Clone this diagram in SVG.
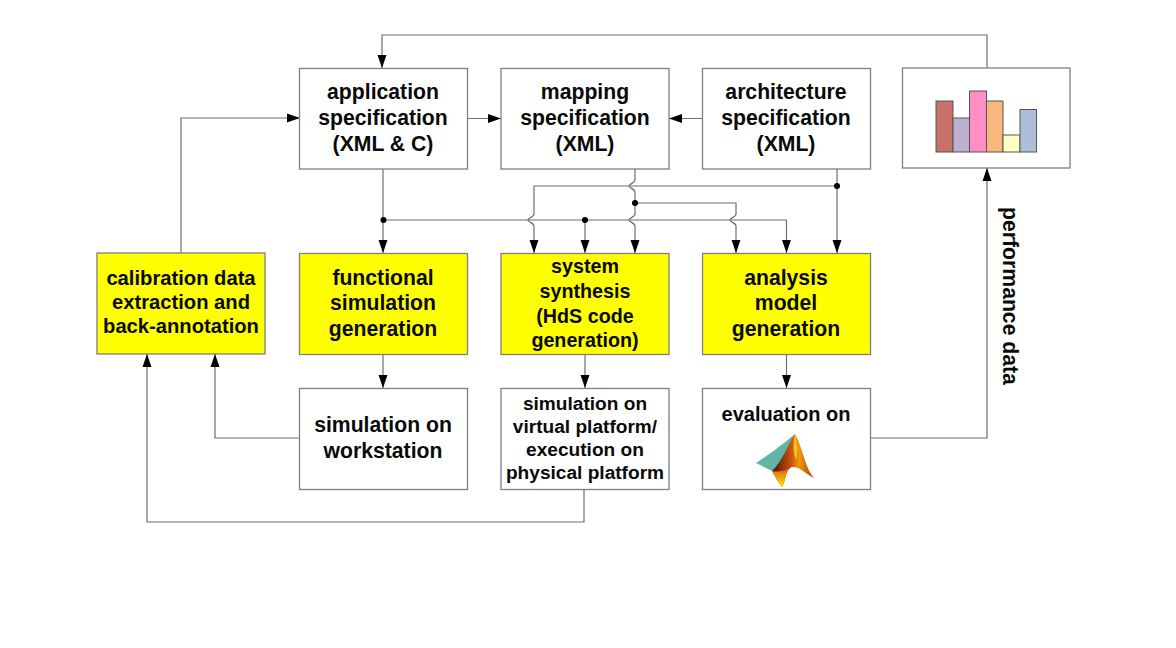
<svg xmlns="http://www.w3.org/2000/svg" width="1176" height="648" viewBox="0 0 1176 648">
<defs>
<marker id="a" markerUnits="userSpaceOnUse" markerWidth="14" markerHeight="12" refX="13" refY="6" orient="auto"><path d="M0,1.500 L13,6 L0,10.500 Z" fill="#000"/></marker>
<linearGradient id="g1" x1="0" y1="0" x2="1" y2="0"><stop offset="0" stop-color="#4a1208"/><stop offset=".45" stop-color="#c9500c"/><stop offset=".65" stop-color="#f09a10"/><stop offset="1" stop-color="#a83a0c"/></linearGradient>
<linearGradient id="g2" x1="0" y1="1" x2="0" y2="0"><stop offset="0" stop-color="#ffe600"/><stop offset="1" stop-color="#d9650f"/></linearGradient>
</defs>
<style>
.b{fill:#fff;stroke:#7f7f7f;stroke-width:1.3}
.y{fill:#ffff00;stroke:#7f7f7f;stroke-width:1.3}
text{font-family:"Liberation Sans",Arial,sans-serif;font-weight:bold;font-size:21.200px;fill:#0a0a0a;text-anchor:middle}
.s{font-size:20.200px}
.t{font-size:19.700px}
.p{font-size:19.100px}
.e{font-size:20px}
.c{fill:none;stroke:#6f6f6f;stroke-width:1.2}
.h{marker-end:url(#a)}
.bar{stroke:#555;stroke-width:1}
</style>
<rect width="1176" height="648" fill="#fff"/>
<g id="connectors">
<path class="c h" d="M987,68 V35 H382 V68"/>
<path class="c h" d="M181,253 V118 H300"/>
<path class="c h" d="M467,118.500 H501"/>
<path class="c h" d="M702,118.500 H669"/>
<path class="c h" d="M383,169 V253"/>
<path class="c" d="M383,220 H786.500"/>
<path class="c h" d="M786.500,220 V253"/>
<path class="c h" d="M585,220 V253"/>
<path class="c h" d="M635,169 V180 C635,183 629,184 629,186 C629,188 635,189 635,192 V214 C635,217 629,218 629,220 C629,222 635,223 635,226 V253"/>
<path class="c h" d="M837,186 H534 V214 C534,217 528,218 528,220 C528,222 534,223 534,226 V253"/>
<path class="c h" d="M837,169 V253"/>
<path class="c h" d="M635,203 H736 V214 C736,217 730,218 730,220 C730,222 736,223 736,226 V253"/>
<path class="c h" d="M383,354 V388"/>
<path class="c h" d="M585,354 V388"/>
<path class="c h" d="M786.500,354 V388"/>
<path class="c h" d="M300,438 H215 V354"/>
<path class="c h" d="M584,490 V522 H147 V354"/>
<path class="c h" d="M870,438 H987 V168"/>
<circle cx="383.500" cy="220" r="3"/>
<circle cx="585" cy="220" r="3"/>
<circle cx="635" cy="203" r="3"/>
<circle cx="837" cy="186" r="3"/>
</g>
<g id="application"><rect class="b" x="299.500" y="68.500" width="168" height="100.500"/><text x="383" y="99">application</text><text x="383" y="125">specification</text><text x="383" y="151">(XML &amp; C)</text></g>
<g id="mapping"><rect class="b" x="501" y="68.500" width="168" height="100.500"/><text x="585" y="99">mapping</text><text x="585" y="125">specification</text><text x="585" y="151">(XML)</text></g>
<g id="architecture"><rect class="b" x="702.500" y="68.500" width="168" height="100.500"/><text x="786" y="99">architecture</text><text x="786" y="125">specification</text><text x="786" y="151">(XML)</text></g>
<g id="chart"><rect class="b" x="902.500" y="68" width="167.500" height="100"/>
<rect class="bar" x="936" y="101" width="17" height="51" fill="#c8716b"/>
<rect class="bar" x="953" y="118" width="16.500" height="34" fill="#bdafd0"/>
<rect class="bar" x="969.500" y="91" width="17" height="61" fill="#ff8dc6"/>
<rect class="bar" x="986.500" y="101" width="16.500" height="51" fill="#f8b77c"/>
<rect class="bar" x="1003" y="135" width="17" height="17" fill="#ffffc4"/>
<rect class="bar" x="1020" y="109.500" width="16.500" height="42.500" fill="#adbfd8"/>
</g>
<g id="calibration"><rect class="y" x="97" y="253" width="168" height="101"/><text class="s" x="181" y="285">calibration data</text><text class="s" x="181" y="309">extraction and</text><text class="s" x="181" y="333">back-annotation</text></g>
<g id="functional"><rect class="y" x="299.500" y="253.500" width="168" height="101"/><text x="383" y="285">functional</text><text x="383" y="310">simulation</text><text x="383" y="336">generation</text></g>
<g id="synthesis"><rect class="y" x="501" y="253.500" width="168" height="101"/><text class="t" x="585" y="273">system</text><text class="t" x="585" y="298">synthesis</text><text class="t" x="585" y="323">(HdS code</text><text class="t" x="585" y="347">generation)</text></g>
<g id="analysis"><rect class="y" x="702.500" y="253.500" width="168" height="101"/><text x="786" y="285">analysis</text><text x="786" y="310">model</text><text x="786" y="336">generation</text></g>
<g id="workstation"><rect class="b" x="299.500" y="388.500" width="168" height="101"/><text x="383" y="432">simulation on</text><text x="383" y="458">workstation</text></g>
<g id="platform"><rect class="b" x="501" y="388.500" width="168" height="101"/><text class="p" x="585" y="410">simulation on</text><text class="p" x="585" y="433">virtual platform/</text><text class="p" x="585" y="456">execution on</text><text class="p" x="585" y="479">physical platform</text></g>
<g id="evaluation"><rect class="b" x="702.500" y="388.500" width="168" height="101"/><text class="e" x="786" y="421">evaluation on</text>
<path d="M756,463 L772,452 L784,443 L795,434 L785,460 L772,471 Z" fill="#62b3a8"/>
<path d="M795,434 C802,446 806,470 814,478 C805,474 797,464 790,468 C785,472 785,484 782,487 C778,482 775,476 772,471 C782,462 788,444 795,434 Z" fill="url(#g1)"/>
<path d="M772,471 C777,472 784,472 790,468 C785,472 785,484 782,487 C778,482 775,476 772,471 Z" fill="url(#g2)"/>
<path d="M795,434 C798,442 798,452 796,460 C793,452 793,442 795,434 Z" fill="#f7c020"/>
</g>
<g id="performance-label"><text transform="translate(1003,296) rotate(90)">performance data</text></g>
</svg>
